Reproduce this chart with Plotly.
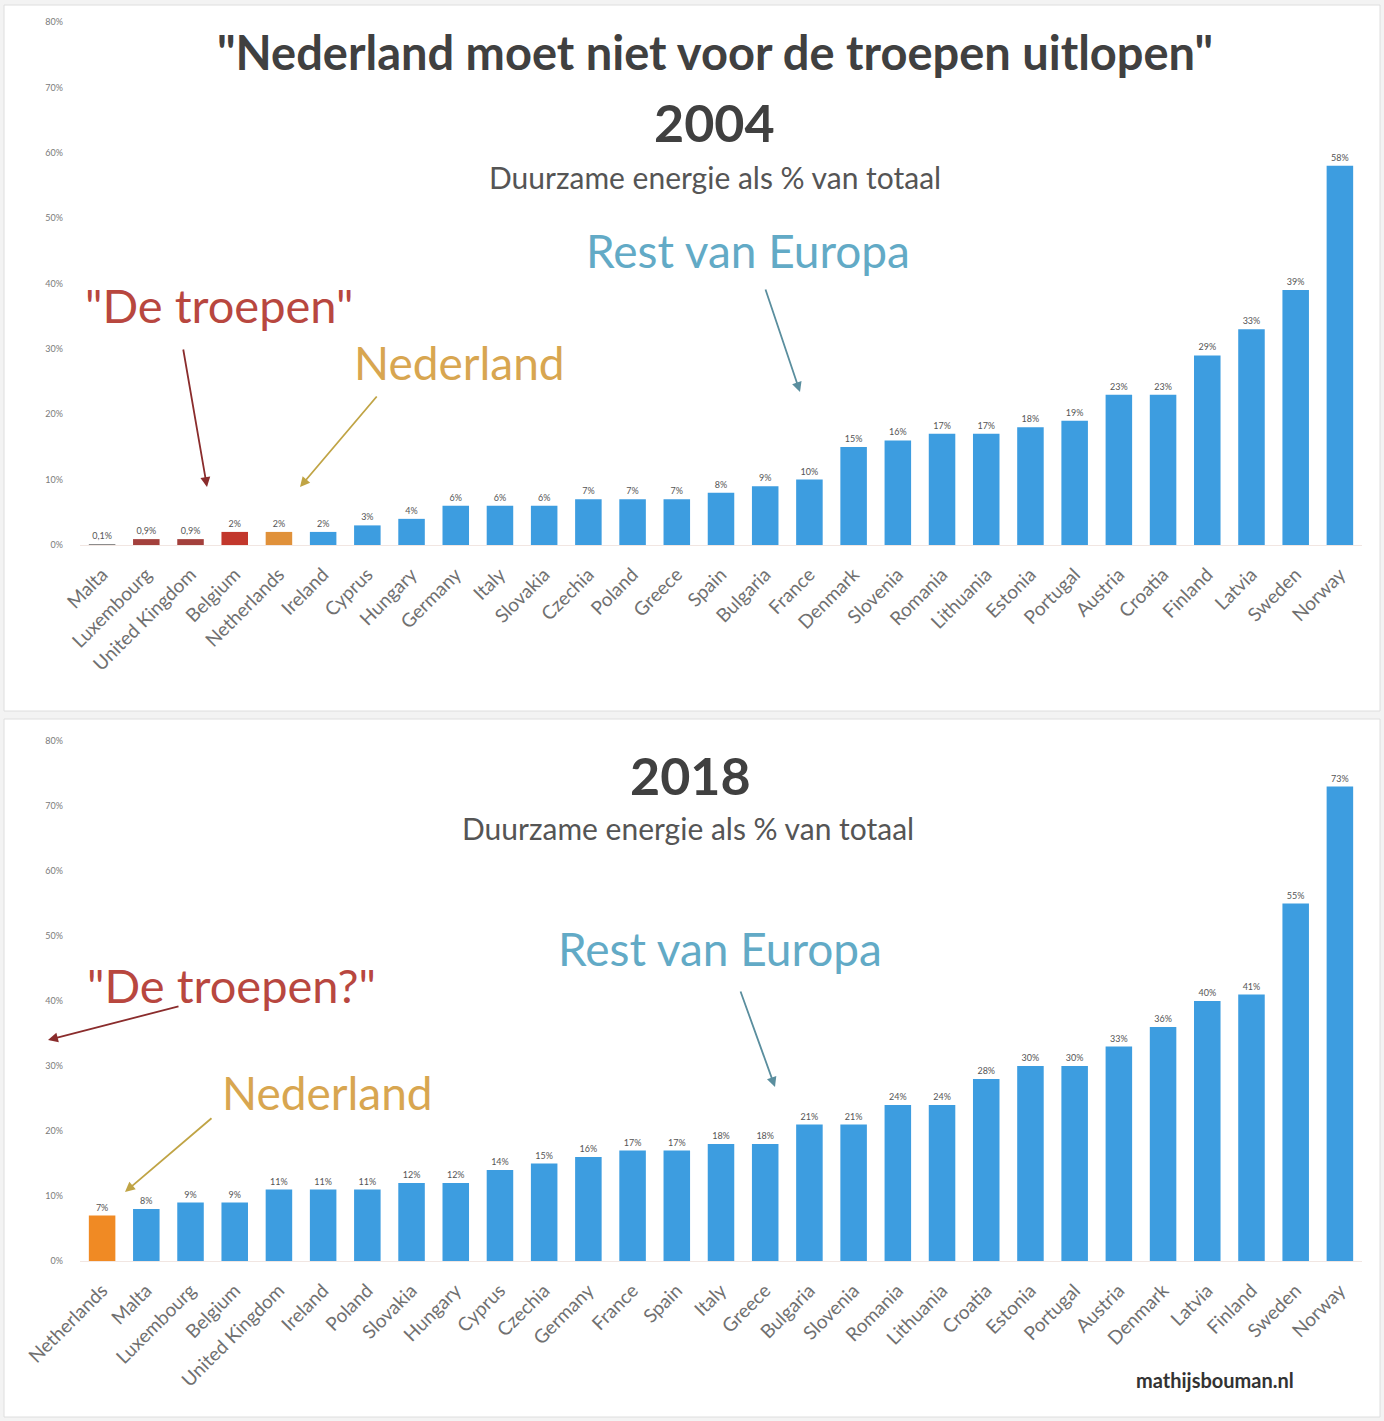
import plotly.graph_objects as go

# --- data -------------------------------------------------------------
countries_2004 = ["Malta", "Luxembourg", "United Kingdom", "Belgium", "Netherlands",
                  "Ireland", "Cyprus", "Hungary", "Germany", "Italy", "Slovakia",
                  "Czechia", "Poland", "Greece", "Spain", "Bulgaria", "France",
                  "Denmark", "Slovenia", "Romania", "Lithuania", "Estonia",
                  "Portugal", "Austria", "Croatia", "Finland", "Latvia", "Sweden",
                  "Norway"]
share_2004 = [0.1, 0.9, 0.9, 2, 2, 2, 3, 4, 6, 6, 6, 7, 7, 7, 8, 9, 10,
              15, 16, 17, 17, 18, 19, 23, 23, 29, 33, 39, 58]

countries_2018 = ["Netherlands", "Malta", "Luxembourg", "Belgium", "United Kingdom",
                  "Ireland", "Poland", "Slovakia", "Hungary", "Cyprus", "Czechia",
                  "Germany", "France", "Spain", "Italy", "Greece", "Bulgaria",
                  "Slovenia", "Romania", "Lithuania", "Croatia", "Estonia",
                  "Portugal", "Austria", "Denmark", "Latvia", "Finland", "Sweden",
                  "Norway"]
share_2018 = [7, 8, 9, 9, 11, 11, 11, 12, 12, 14, 15, 16, 17, 17, 18, 18, 21,
              21, 24, 24, 28, 30, 30, 33, 36, 40, 41, 55, 73]

y_ticks = [0, 10, 20, 30, 40, 50, 60, 70, 80]
y_tick_labels = [f"{t}%" for t in y_ticks]

# --- styling ----------------------------------------------------------
W, H = 1384, 1421
FONT = "Lato"
BLUE = "#3d9de0"
special_2004 = {"Malta": "#8c8c8c", "Luxembourg": "#a3403c", "United Kingdom": "#a3403c",
                "Belgium": "#c2372c", "Netherlands": "#e0913a"}
special_2018 = {"Netherlands": "#f08a24"}


def fmt(v):
    if v < 1:
        return f"{v:.1f}".replace(".", ",") + "%"
    return f"{v:.0f}%"


def px(x):
    return x / W


def py(y):
    return 1 - y / H


fig = go.Figure()

fig.add_trace(go.Bar(
    x=countries_2004, y=share_2004,
    marker=dict(color=[special_2004.get(c, BLUE) for c in countries_2004], line_width=0),
    text=[fmt(v) for v in share_2004], textposition="outside", cliponaxis=False,
    textfont=dict(size=9, color="#555555", family=FONT),
    xaxis="x", yaxis="y", hoverinfo="x+y",
))
fig.add_trace(go.Bar(
    x=countries_2018, y=share_2018,
    marker=dict(color=[special_2018.get(c, BLUE) for c in countries_2018], line_width=0),
    text=[fmt(v) for v in share_2018], textposition="outside", cliponaxis=False,
    textfont=dict(size=9, color="#555555", family=FONT),
    xaxis="x2", yaxis="y2", hoverinfo="x+y",
))

xdom = [px(80), px(1362)]
xcommon = dict(domain=xdom, tickangle=-45, showgrid=False, zeroline=False, automargin=False,
               showline=True, linecolor="#f1e6e2", linewidth=1, ticks="",
               ticklabelstandoff=10,
               tickfont=dict(family=FONT, size=19, color="#707070"))
ycommon = dict(range=[0, 80], tickvals=y_ticks, ticktext=y_tick_labels, showgrid=False,
               zeroline=False, showline=False, ticks="", ticklabelstandoff=16, automargin=False,
               tickfont=dict(family=FONT, size=9, color="#7a7a7a"))

# panel cards
shapes = [
    dict(type="rect", xref="paper", yref="paper", x0=px(4), x1=px(1380), y0=py(711), y1=py(5),
         fillcolor="white", line=dict(color="#dedede", width=1), layer="below"),
    dict(type="rect", xref="paper", yref="paper", x0=px(4), x1=px(1380), y0=py(1417), y1=py(719),
         fillcolor="white", line=dict(color="#dedede", width=1), layer="below"),
]


def label(text, x, y, size, color, bold=False):
    return dict(text=f"<b>{text}</b>" if bold else text, x=px(x), y=py(y),
                xref="paper", yref="paper", xanchor="center", yanchor="middle",
                showarrow=False, font=dict(family=FONT, size=size, color=color))


def arrow(head, tail, color):
    return dict(text="", x=px(head[0]), y=py(head[1]), xref="paper", yref="paper",
                ax=tail[0] - head[0], ay=tail[1] - head[1], showarrow=True,
                arrowhead=2, arrowsize=1.1, arrowwidth=1.8, arrowcolor=color)


RED_TXT, RED_ARR = "#b8473f", "#8a2c2c"
GOLD_TXT, GOLD_ARR = "#d8a650", "#c0a445"
TEAL_TXT, TEAL_ARR = "#62aac6", "#5a8e9e"

annotations = [
    label('"Nederland moet niet voor de troepen uitlopen"', 715, 52, 47, "#404040", True),
    label("2004", 715, 122, 52, "#404040", True),
    label("Duurzame energie als % van totaal", 715, 177, 30, "#555555"),
    label("Rest van Europa", 748, 250, 46, TEAL_TXT),
    label('"De troepen"', 219, 305, 47, RED_TXT),
    label("Nederland", 460, 362, 46, GOLD_TXT),
    arrow((207, 487), (183, 348), RED_ARR),
    arrow((300, 487), (378, 395), GOLD_ARR),
    arrow((800, 392), (765, 288), TEAL_ARR),

    label("2018", 690, 775, 52, "#404040", True),
    label("Duurzame energie als % van totaal", 688, 828, 30, "#555555"),
    label("Rest van Europa", 720, 948, 46, TEAL_TXT),
    label('"De troepen?"', 231, 985, 47, RED_TXT),
    label("Nederland", 327, 1092, 46, GOLD_TXT),
    arrow((48, 1040), (180, 1006), RED_ARR),
    arrow((125, 1192), (213, 1117), GOLD_ARR),
    arrow((775, 1087), (740, 990), TEAL_ARR),
    label("mathijsbouman.nl", 1215, 1380, 20, "#333333", True),
]

fig.update_layout(
    width=W, height=H,
    margin=dict(l=0, r=0, t=0, b=0, autoexpand=False),
    paper_bgcolor="#f3f3f3", plot_bgcolor="rgba(0,0,0,0)",
    showlegend=False, bargap=0.4,
    xaxis=dict(anchor="y", **xcommon),
    yaxis=dict(anchor="x", domain=[py(545), py(22)], **ycommon),
    xaxis2=dict(anchor="y2", **xcommon),
    yaxis2=dict(anchor="x2", domain=[py(1261), py(741)], **ycommon),
    shapes=shapes, annotations=annotations,
)

fig.write_html("out.html")
